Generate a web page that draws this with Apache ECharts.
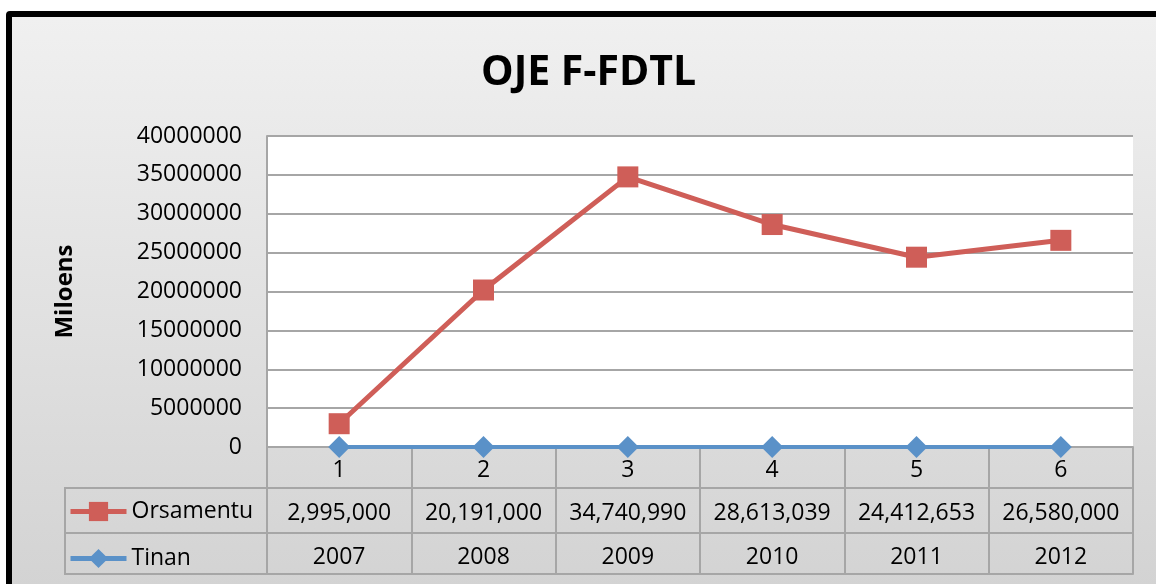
<!DOCTYPE html>
<html>
<head>
<meta charset="utf-8">
<script src="https://cdn.jsdelivr.net/npm/echarts@6/dist/echarts.min.js"></script>
<style>
  html, body { margin: 0; padding: 0; background: #fff; }
  .frame {
    position: absolute;
    left: 6px;
    top: 11px;
    width: 1200px;
    height: 640px;
    border: 6px solid #000;
    border-radius: 4px 0 0 0;
    background: linear-gradient(to bottom, #f0f0f0 0px, #d3d3d3 570px);
  }
  #chart {
    position: absolute;
    left: 0;
    top: 0;
    width: 1156px;
    height: 584px;
  }
</style>
</head>
<body>
<div class="frame"></div>
<div id="chart"></div>
<script>
  // data
  var categories = ['1', '2', '3', '4', '5', '6']
  var orsamentu = [2995000, 20191000, 34740990, 28613039, 24412653, 26580000]
  var tinan = [2007, 2008, 2009, 2010, 2011, 2012]
  var yTicks = { min: 0, max: 40000000, interval: 5000000 }

  var font = 'Open Sans'
  var gridColor = '#a6a6a6'
  var red = '#cf5e58'
  var blue = '#5a91c8'

  var chart = echarts.init(document.getElementById('chart'), null, { renderer: 'canvas' })

  function tableAxis(labels, offset, tickLen, margin) {
    return {
      type: 'category',
      position: 'bottom',
      offset: offset,
      data: labels,
      boundaryGap: true,
      axisLine: { show: true, lineStyle: { color: gridColor, width: 2 } },
      axisTick: { show: tickLen > 0, length: tickLen, lineStyle: { color: gridColor, width: 2 } },
      axisLabel: {
        show: labels.length > 0 && tickLen > 0,
        color: '#000',
        fontFamily: font,
        fontSize: 23,
        margin: margin,
        interval: 0
      }
    }
  }

  chart.setOption({
    backgroundColor: 'transparent',
    animation: false,
    title: {
      text: 'OJE F-FDTL',
      left: 476,
      top: 48,
      textStyle: { fontFamily: font, fontWeight: 'bold', fontSize: 41, color: '#000' }
    },
    legend: {
      orient: 'vertical',
      left: 63,
      top: 495,
      itemWidth: 56,
      itemHeight: 24,
      itemGap: 24,
      textStyle: { fontFamily: font, fontSize: 23, color: '#000' },
      lineStyle: { width: 5 },
      data: ['Orsamentu', 'Tinan']
    },
    grid: {
      left: 267,
      right: 23,
      top: 136,
      bottom: 137,
      show: true,
      backgroundColor: '#fff',
      borderWidth: 0
    },
    xAxis: [
      tableAxis(categories, 0, 41, 12),
      tableAxis(orsamentu.map(function (v) { return v.toLocaleString('en-US') }), 41, 45, 14),
      tableAxis(tinan.map(String), 86, 41, 13),
      tableAxis(categories, 127, 0, 0)
    ],
    yAxis: {
      type: 'value',
      min: yTicks.min,
      max: yTicks.max,
      interval: yTicks.interval,
      name: 'Miloens',
      nameLocation: 'middle',
      nameRotate: 90,
      nameGap: 190,
      nameTextStyle: { fontFamily: font, fontWeight: 'bold', fontSize: 24, color: '#000' },
      axisLine: { show: true, lineStyle: { color: gridColor, width: 2 } },
      axisTick: { show: false },
      splitLine: { lineStyle: { color: gridColor, width: 2 } },
      axisLabel: {
        color: '#000',
        fontFamily: font,
        fontSize: 23,
        margin: 25,
        formatter: function (v) { return String(v) }
      }
    },
    graphic: [
      {
        type: 'rect',
        shape: { x: 65, y: 488, width: 202, height: 86 },
        style: { fill: null, stroke: gridColor, lineWidth: 2 },
        z: 10
      },
      {
        type: 'line',
        shape: { x1: 65, y1: 533, x2: 267, y2: 533 },
        style: { stroke: gridColor, lineWidth: 2 },
        z: 10
      }
    ],
    series: [
      {
        name: 'Orsamentu',
        type: 'line',
        data: orsamentu,
        symbol: 'rect',
        symbolSize: 21,
        color: red,
        lineStyle: { color: red, width: 5 },
        itemStyle: { color: red },
        z: 3
      },
      {
        name: 'Tinan',
        type: 'line',
        data: tinan,
        symbol: 'diamond',
        symbolSize: 22,
        color: blue,
        lineStyle: { color: blue, width: 4 },
        itemStyle: { color: blue },
        z: 4
      }
    ]
  })
</script>
</body>
</html>
